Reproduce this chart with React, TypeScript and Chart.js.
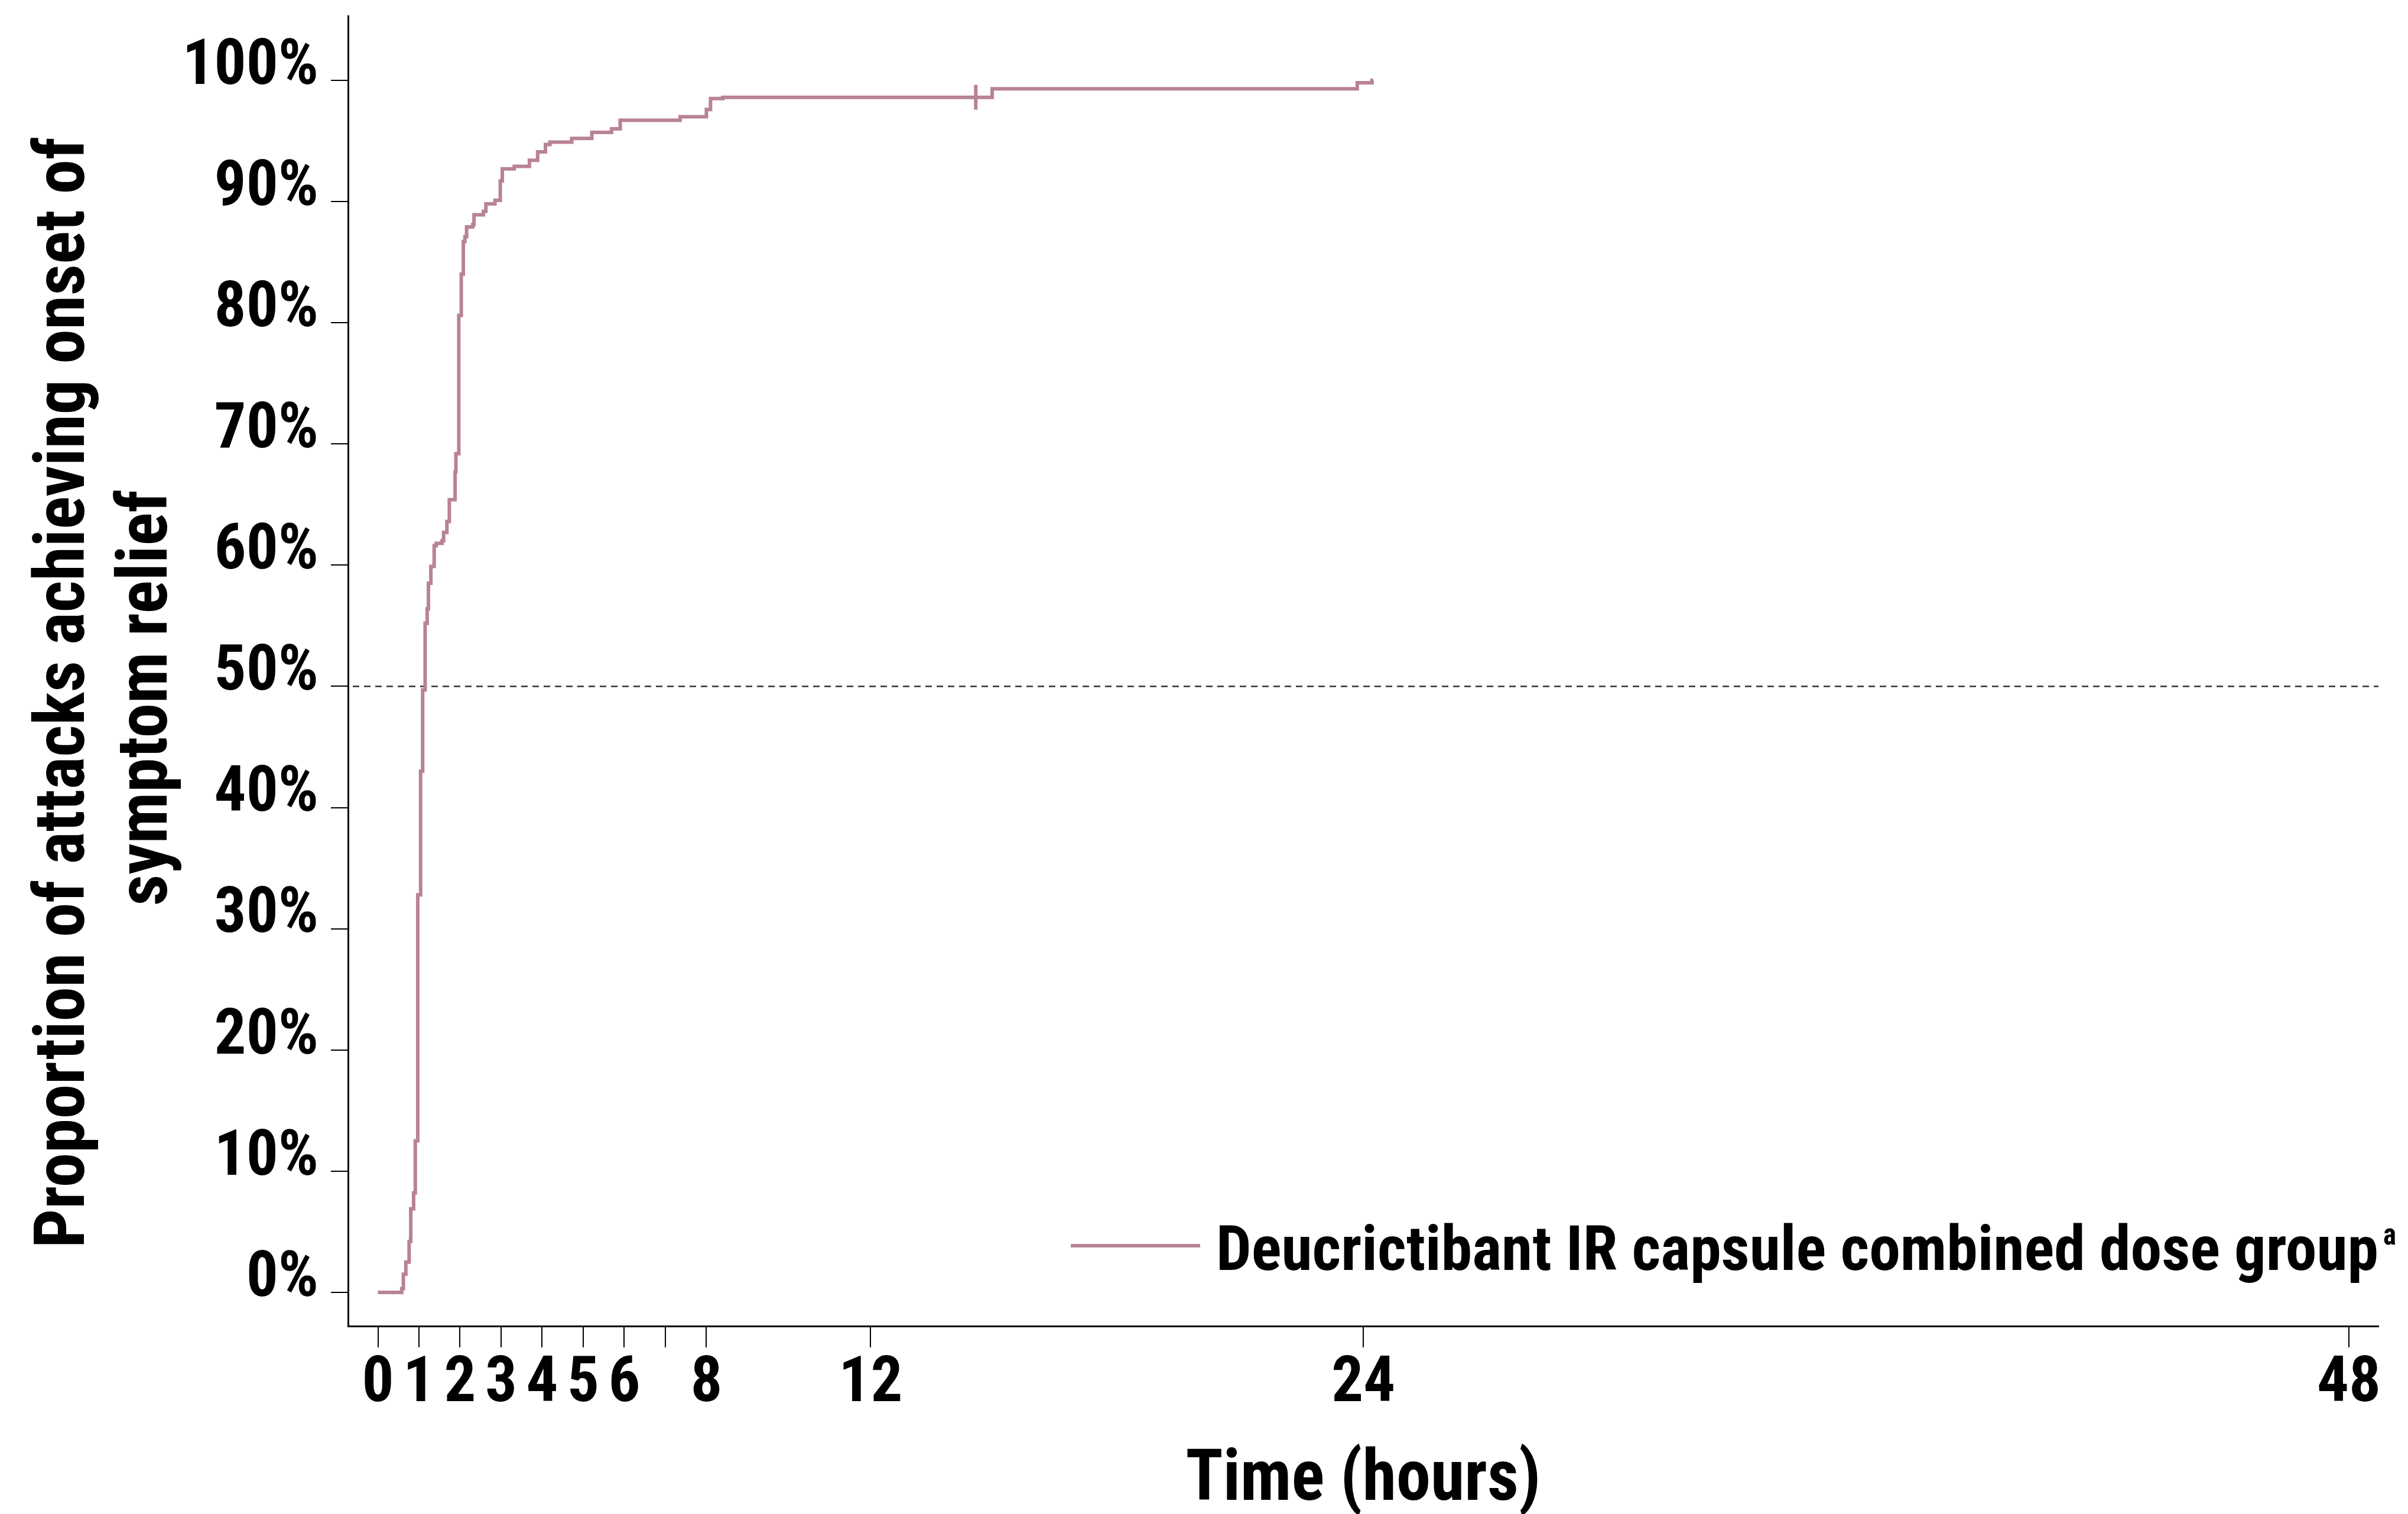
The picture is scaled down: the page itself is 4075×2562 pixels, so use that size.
import { useEffect, useRef } from "react";
import { Chart, registerables } from "chart.js";

Chart.register(...registerables);

// Kaplan–Meier style cumulative proportion (step changes at each time point)
const timeHours = [
  0, 0.58, 0.62, 0.68, 0.76, 0.8, 0.87, 0.91, 0.97, 1.04, 1.09, 1.15, 1.2, 1.23,
  1.29, 1.37, 1.42, 1.56, 1.6, 1.68, 1.74, 1.88, 1.9, 1.97, 2.03, 2.08, 2.12,
  2.16, 2.31, 2.34, 2.57, 2.63, 2.85, 2.98, 3.03, 3.32, 3.69, 3.89, 4.08, 4.19,
  4.72, 5.21, 5.69, 5.9, 7.36, 8.0, 8.1, 8.4, 14.96, 23.85, 24.21, 24.24,
];
const proportionPct = [
  0, 0.3, 1.5, 2.5, 4.2, 6.9, 8.2, 12.5, 32.8, 43.0, 49.7, 55.2, 56.4, 58.5,
  59.9, 61.6, 61.8, 62.0, 62.7, 63.6, 65.4, 67.7, 69.2, 80.6, 84.0, 86.7, 87.1,
  87.9, 88.1, 88.9, 89.2, 89.8, 90.1, 91.7, 92.7, 92.9, 93.4, 94.1, 94.7, 94.9,
  95.2, 95.7, 96.0, 96.7, 97.0, 97.6, 98.5, 98.6, 99.3, 99.8, 100, 100,
];

// Censored observation
const censorTimes = [14.56];
const censorPct = [98.6];

const xTickValues = [0, 1, 2, 3, 4, 5, 6, 7, 8, 12, 24, 48];
const xTickLabels = ["0", "1", "2", "3", "4", "5", "6", "", "8", "12", "24", "48"];
const yTickValues = [0, 10, 20, 30, 40, 50, 60, 70, 80, 90, 100];

const referenceLevel = 50;

const seriesLabel = "Deucrictibant IR capsule combined dose group";
const seriesNote = "a";
const xTitle = "Time (hours)";
const yTitleLines = ["Proportion of attacks achieving onset of", "symptom relief"];

const X_MIN = -0.727;
const X_MAX = 48.72;
const Y_MIN = -2.78;
const Y_MAX = 105.31;

const LINE_COLOR = "#b88393";
const FONT_FAMILY = '"Roboto Condensed", Roboto, "Liberation Sans", sans-serif';

function fitText(
  ctx: CanvasRenderingContext2D,
  text: string,
  x: number,
  y: number,
  width: number,
  align: "left" | "center",
) {
  const w = ctx.measureText(text).width;
  const sx = width / w;
  ctx.save();
  ctx.translate(x, y);
  ctx.scale(sx, 1);
  ctx.textAlign = align;
  ctx.fillText(text, 0, 0);
  ctx.restore();
}

const referenceLinePlugin = {
  id: "referenceLine",
  beforeDatasetsDraw(chart: any) {
    const { ctx, chartArea, scales } = chart;
    const y = scales.y.getPixelForValue(referenceLevel);
    ctx.save();
    ctx.strokeStyle = "#333";
    ctx.lineWidth = 2.5;
    ctx.setLineDash([11, 8]);
    ctx.beginPath();
    ctx.moveTo(chartArea.left + 8, y);
    ctx.lineTo(chartArea.right, y);
    ctx.stroke();
    ctx.restore();
  },
};

const annotationPlugin = {
  id: "textAnnotations",
  afterDraw(chart: any) {
    const { ctx } = chart;
    ctx.save();
    ctx.fillStyle = "#000";
    ctx.textBaseline = "alphabetic";

    // Y axis title, two rotated lines
    ctx.font = `bold 118px ${FONT_FAMILY}`;
    const yLines = [
      { x: 142, cy: 1172, w: 1880 },
      { x: 282, cy: 1181, w: 704 },
    ];
    yTitleLines.forEach((line, i) => {
      const p = yLines[i];
      ctx.save();
      ctx.translate(p.x, p.cy);
      ctx.rotate(-Math.PI / 2);
      fitText(ctx, line, 0, 0, p.w, "center");
      ctx.restore();
    });

    // X axis title
    ctx.font = `bold 120px ${FONT_FAMILY}`;
    fitText(ctx, xTitle, 2307, 2538, 601, "center");

    // Legend
    ctx.save();
    ctx.strokeStyle = LINE_COLOR;
    ctx.lineWidth = 6;
    ctx.beginPath();
    ctx.moveTo(1812, 2108);
    ctx.lineTo(2031, 2108);
    ctx.stroke();
    ctx.restore();
    ctx.font = `bold 106px ${FONT_FAMILY}`;
    fitText(ctx, seriesLabel, 2058, 2149, 1967, "left");
    ctx.font = `bold 52px ${FONT_FAMILY}`;
    fitText(ctx, seriesNote, 4033, 2106, 22, "left");

    ctx.restore();
  },
};

export default function App() {
  const canvasRef = useRef<HTMLCanvasElement | null>(null);

  useEffect(() => {
    const canvas = canvasRef.current;
    if (!canvas) return;

    const curve = timeHours.map((t, i) => ({ x: t, y: proportionPct[i] }));
    const censored = censorTimes.map((t, i) => ({ x: t, y: censorPct[i] }));

    const chart = new Chart(canvas, {
      type: "line",
      data: {
        datasets: [
          {
            label: seriesLabel,
            data: curve,
            stepped: true,
            borderColor: LINE_COLOR,
            borderWidth: 6,
            pointRadius: 0,
            fill: false,
            borderCapStyle: "butt",
            borderJoinStyle: "miter",
          },
          {
            type: "scatter",
            label: "Censored",
            data: censored,
            pointStyle: "line",
            rotation: 90,
            pointRadius: 21,
            borderWidth: 6,
            borderColor: LINE_COLOR,
            backgroundColor: LINE_COLOR,
          } as any,
        ],
      },
      options: {
        responsive: false,
        devicePixelRatio: 1,
        animation: false,
        layout: { padding: { top: 26, right: 50, left: 0, bottom: 0 } },
        plugins: {
          legend: { display: false },
          tooltip: { enabled: false },
          title: { display: false },
        },
        scales: {
          x: {
            type: "linear",
            min: X_MIN,
            max: X_MAX,
            afterFit: (scale: any) => {
              scale.height = 318;
              scale.paddingLeft = 0;
              scale.paddingRight = 0;
            },
            afterBuildTicks: (scale: any) => {
              scale.ticks = xTickValues.map((v) => ({ value: v }));
            },
            border: { display: true, color: "#000", width: 3 },
            grid: {
              drawOnChartArea: false,
              drawTicks: true,
              tickLength: 36,
              tickWidth: 2,
              tickColor: "#000",
              lineWidth: 2,
            },
            ticks: {
              autoSkip: false,
              maxRotation: 0,
              padding: 0,
              color: "#000",
              font: { family: FONT_FAMILY, size: 107, weight: "bold" },
              callback: (_v: any, i: number) => xTickLabels[i],
            },
          },
          y: {
            type: "linear",
            min: Y_MIN,
            max: Y_MAX,
            afterFit: (scale: any) => {
              scale.width = 589;
              scale.paddingTop = 0;
              scale.paddingBottom = 0;
            },
            afterBuildTicks: (scale: any) => {
              scale.ticks = yTickValues.map((v) => ({ value: v }));
            },
            border: { display: true, color: "#000", width: 3 },
            grid: {
              drawOnChartArea: false,
              drawTicks: true,
              tickLength: 29,
              tickWidth: 2,
              tickColor: "#000",
              lineWidth: 2,
            },
            ticks: {
              padding: 21,
              labelOffset: -21,
              color: "#000",
              font: { family: FONT_FAMILY, size: 107, weight: "bold" },
              callback: (v: any) => `${v}%`,
            },
          },
        },
      },
      plugins: [referenceLinePlugin, annotationPlugin],
    } as any);

    return () => chart.destroy();
  }, []);

  return (
    <div style={{ position: "fixed", left: 0, top: 0, width: 4075, height: 2562, background: "#fff" }}>
      <canvas ref={canvasRef} width={4075} height={2562} />
    </div>
  );
}
